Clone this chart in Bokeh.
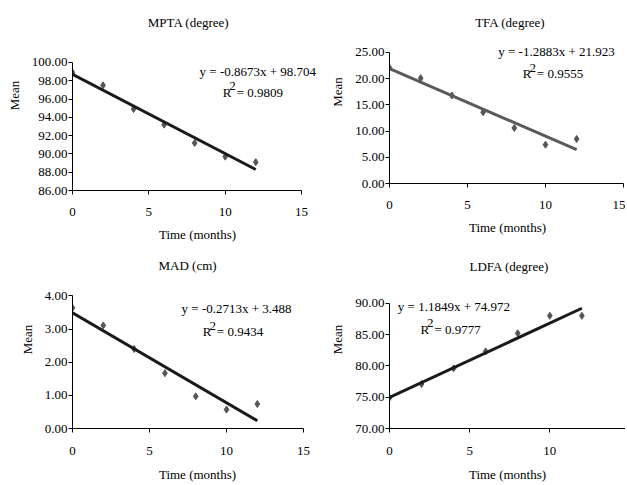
from bokeh.plotting import figure
from bokeh.layouts import row, column
from bokeh.models import Range1d, Label, FixedTicker, NumeralTickFormatter
from bokeh.embed import file_html
from bokeh.resources import INLINE

months = [0, 2, 4, 6, 8, 10, 12]

mpta = [98.9, 97.5, 94.9, 93.2, 91.2, 89.7, 89.1]
tfa = [22.1, 20.1, 16.8, 13.6, 10.6, 7.4, 8.5]
mad = [3.64, 3.11, 2.40, 1.67, 0.97, 0.57, 0.74]
ldfa = [74.9, 77.1, 79.6, 82.3, 85.2, 88.0, 88.0]

titles = ["MPTA (degree)", "TFA (degree)", "MAD (cm)", "LDFA (degree)"]
slopes = [-0.8673, -1.2883, -0.2713, 1.1849]
intercepts = [98.704, 21.923, 3.488, 74.972]
r2 = ["0.9809", "0.9555", "0.9434", "0.9777"]
eq_text = ["y = -0.8673x + 98.704", "y = -1.2883x + 21.923",
           "y = -0.2713x + 3.488", "y = 1.1849x + 74.972"]

y_axis_bounds = [(86, 100), (0, 25), (0, 4), (70, 90)]
y_ticks = [[86, 88, 90, 92, 94, 96, 98, 100], [0, 5, 10, 15, 20, 25],
           [0, 1, 2, 3, 4], [70, 75, 80, 85, 90]]
x_ticks = [0, 5, 10, 15]
x_axis_bounds = (0, 15)

FONT = "Liberation Serif"
FS = "13px"

# per panel: width, height, min_border_left, min_border_bottom, x range, y range,
# x tick-label standoff, x axis-label standoff
panels = [
    (322, 250, 72, 60, (0, 16.37), (86, 106.78), 13, 8),
    (303, 250, 67, 67, (0, 15.13), (0, 34.92), 13, 8),
    (322, 234, 72, 55, (0, 16.23), (0, 5.37), 14, 9),
    (303, 234, 67, 55, (0, 14.72), (70, 98.41), 14, 9),
]
line_colors = ["#1a1a1a", "#5a5a5a", "#1a1a1a", "#1a1a1a"]
# text anchors in data coords: title (x, y), equation (x, y), R^2 (x, y)
title_pos = [(7.6, 104.37), (7.74, 30.78), (7.47, 4.93), (7.47, 95.92)]
eq_pos = [(8.32, 99.02), (6.97, 25.11), (7.08, 3.61), (0.52, 89.46)]
r_pos = [(9.84, 96.72), (8.55, 20.99), (8.46, 2.92), (1.93, 85.87)]

series = [mpta, tfa, mad, ldfa]


def lab(p, x, y, text, align="left", xo=0, yo=0):
    p.add_layout(Label(x=x, y=y, x_offset=xo, y_offset=yo, text=text,
                       text_font=FONT, text_font_size=FS, text_align=align,
                       text_baseline="middle", text_color="#000000"))


figs = []
for i in range(4):
    w, h, bl, bb, xr, yr, mls, als = panels[i]
    p = figure(width=w, height=h, output_backend="svg", toolbar_location=None,
               x_range=Range1d(*xr), y_range=Range1d(*yr),
               min_border_left=bl, min_border_right=0, min_border_top=0,
               min_border_bottom=bb)
    p.frame_align = False
    p.outline_line_color = None
    p.grid.visible = False
    p.background_fill_color = "white"
    p.border_fill_color = "white"
    for ax in (p.xaxis, p.yaxis):
        ax.major_label_text_font = FONT
        ax.major_label_text_font_size = FS
        ax.axis_label_text_font = FONT
        ax.axis_label_text_font_size = FS
        ax.axis_label_text_font_style = "normal"
        ax.axis_line_color = "#000000"
        ax.major_tick_line_color = "#000000"
        ax.major_tick_in = 0
        ax.major_tick_out = 4
        ax.minor_tick_line_color = None
        ax.major_label_text_color = "#000000"
        ax.axis_label_text_color = "#000000"
    p.xaxis.ticker = FixedTicker(ticks=x_ticks)
    p.yaxis.ticker = FixedTicker(ticks=y_ticks[i])
    p.xaxis.bounds = x_axis_bounds
    p.yaxis.bounds = y_axis_bounds[i]
    p.yaxis.formatter = NumeralTickFormatter(format="0.00")
    p.xaxis.axis_label = "Time (months)"
    p.yaxis.axis_label = "Mean"
    p.xaxis.major_label_standoff = mls
    p.xaxis.axis_label_standoff = als
    p.yaxis.major_label_standoff = 1
    p.yaxis.axis_label_standoff = 7

    xs = [months[0], months[-1]]
    ys = [slopes[i] * x + intercepts[i] for x in xs]
    p.scatter(months, series[i], marker="diamond", size=7, color="#555555")
    p.line(xs, ys, line_width=3, color=line_colors[i])

    lab(p, *title_pos[i], titles[i], align="center")
    lab(p, *eq_pos[i], eq_text[i])
    rx, ry = r_pos[i]
    lab(p, rx, ry, "R")
    lab(p, rx, ry, "2", xo=6.6, yo=6)
    lab(p, rx, ry, "= " + r2[i], xo=14)
    figs.append(p)

layout_obj = column(row(figs[0], figs[1]), row(figs[2], figs[3]))
open("out.html", "w").write(file_html(layout_obj, INLINE))
